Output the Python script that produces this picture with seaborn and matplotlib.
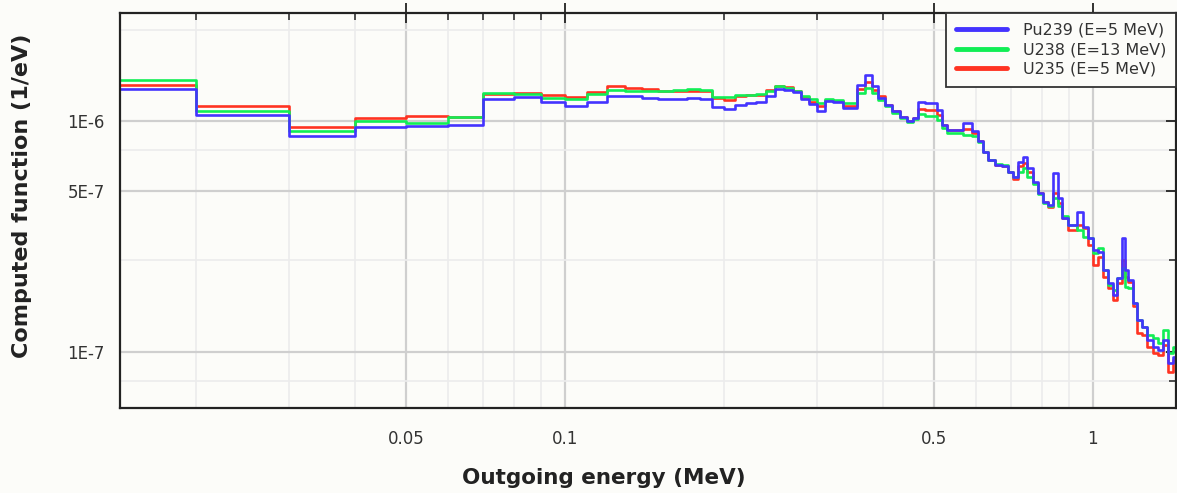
import numpy as np
import pandas as pd
import matplotlib
matplotlib.use('Agg')
import matplotlib.pyplot as plt
import matplotlib.ticker as mticker
import seaborn as sns

# bin edges of outgoing energy (MeV)
edges = [0.014, 0.02, 0.03, 0.04, 0.05, 0.06, 0.07, 0.08, 0.09, 0.10,
         0.11, 0.12, 0.13, 0.14, 0.15, 0.16, 0.17, 0.18, 0.19, 0.20,
         0.21, 0.22, 0.23, 0.24, 0.25, 0.26, 0.27, 0.28, 0.29, 0.30,
         0.311, 0.322, 0.336, 0.357, 0.370, 0.381, 0.392, 0.404, 0.416, 0.431,
         0.444, 0.456, 0.466, 0.481, 0.507, 0.518, 0.529, 0.567, 0.590, 0.606,
         0.619, 0.633, 0.652, 0.673, 0.690, 0.706, 0.721, 0.737, 0.750, 0.770,
         0.787, 0.804, 0.822, 0.840, 0.858, 0.874, 0.897, 0.933, 0.957, 0.978,
         1.000, 1.022, 1.044, 1.068, 1.091, 1.110, 1.135, 1.150, 1.165, 1.191,
         1.212, 1.238, 1.266, 1.299, 1.328, 1.357, 1.387, 1.418, 1.45]

# computed function per bin, in units of 1E-6 1/eV
pu239 = [1.387, 1.069, 0.869, 0.946, 0.958, 0.961, 1.251, 1.271, 1.214, 1.170,
         1.214, 1.293, 1.284, 1.261, 1.251, 1.251, 1.264, 1.251, 1.150, 1.132,
         1.182, 1.202, 1.214, 1.284, 1.387, 1.373, 1.342, 1.251, 1.194, 1.116,
         1.221, 1.209, 1.143, 1.443, 1.595, 1.419, 1.264, 1.182, 1.105, 1.045,
         1.007, 1.035, 1.209, 1.197, 1.124, 0.968, 0.920, 0.990, 0.905, 0.819,
         0.741, 0.682, 0.649, 0.642, 0.606, 0.577, 0.670, 0.705, 0.628, 0.549,
         0.489, 0.449, 0.435, 0.597, 0.465, 0.381, 0.356, 0.407, 0.350, 0.312,
         0.277, 0.272, 0.227, 0.199, 0.177, 0.209, 0.312, 0.227, 0.205, 0.163,
         0.138, 0.129, 0.113, 0.105, 0.102, 0.113, 0.0893, 0.0954]

u238 = [1.517, 1.116, 0.905, 1.000, 0.984, 1.041, 1.328, 1.319, 1.264, 1.251,
        1.310, 1.363, 1.355, 1.352, 1.350, 1.366, 1.387, 1.373, 1.276, 1.276,
        1.297, 1.306, 1.315, 1.350, 1.419, 1.401, 1.359, 1.286, 1.255, 1.202,
        1.251, 1.242, 1.202, 1.328, 1.396, 1.328, 1.242, 1.162, 1.088, 1.033,
        0.999, 1.022, 1.080, 1.059, 1.017, 0.939, 0.890, 0.876, 0.861, 0.812,
        0.739, 0.682, 0.655, 0.649, 0.605, 0.575, 0.606, 0.628, 0.577, 0.536,
        0.485, 0.444, 0.428, 0.465, 0.428, 0.390, 0.356, 0.339, 0.317, 0.312,
        0.268, 0.282, 0.227, 0.195, 0.186, 0.209, 0.231, 0.192, 0.189, 0.163,
        0.138, 0.129, 0.119, 0.115, 0.109, 0.125, 0.0987, 0.105]

u235 = [1.443, 1.170, 0.951, 1.035, 1.059, 1.048, 1.319, 1.328, 1.302, 1.276,
        1.336, 1.419, 1.396, 1.380, 1.350, 1.359, 1.350, 1.350, 1.264, 1.242,
        1.293, 1.306, 1.306, 1.373, 1.429, 1.405, 1.359, 1.271, 1.218, 1.162,
        1.234, 1.221, 1.170, 1.382, 1.477, 1.373, 1.284, 1.182, 1.105, 1.045,
        1.007, 1.035, 1.132, 1.118, 1.069, 0.968, 0.920, 0.927, 0.893, 0.819,
        0.741, 0.682, 0.649, 0.642, 0.605, 0.564, 0.642, 0.660, 0.606, 0.540,
        0.489, 0.449, 0.426, 0.489, 0.442, 0.381, 0.339, 0.356, 0.344, 0.291,
        0.238, 0.259, 0.212, 0.189, 0.168, 0.199, 0.251, 0.212, 0.202, 0.158,
        0.121, 0.119, 0.105, 0.0987, 0.0970, 0.107, 0.0821, 0.0923]

labels = ['Pu239 (E=5 MeV)', 'U238 (E=13 MeV)', 'U235 (E=5 MeV)']
colors = ['#4433ff', '#11ee55', '#ff3322']

xticks = [0.05, 0.1, 0.5, 1]
xticklabels = ['0.05', '0.1', '0.5', '1']
xminor = [0.02, 0.03, 0.04, 0.06, 0.07, 0.08, 0.09, 0.2, 0.3, 0.4, 0.6, 0.7, 0.8, 0.9]
yticks = [1e-7, 5e-7, 1e-6]
yticklabels = ['1E-7', '5E-7', '1E-6']
yminor = [7.5e-8, 2.5e-7, 7.5e-7, 2.5e-6]

rows = []
for lab, vals in zip(labels, [pu239, u238, u235]):
    v = list(vals) + [vals[-1]]
    for e, y in zip(edges, v):
        rows.append({'E': e, 'f': y * 1e-6, 'series': lab})
df = pd.DataFrame(rows)

sns.set_theme(style='white')
plt.rcParams['font.family'] = ['DejaVu Sans']

bg = '#fcfcf9'
fig = plt.figure(figsize=(11.77, 4.93), dpi=100, facecolor=bg)
ax = fig.add_axes([0.102, 0.172, 0.897, 0.802])
ax.set_facecolor(bg)
ax.set_xscale('log')
ax.set_yscale('log')

# draw red, green, then blue on top
order = [2, 1, 0]
for i in order:
    sub = df[df['series'] == labels[i]]
    sns.lineplot(data=sub, x='E', y='f', ax=ax, color=colors[i], lw=1.9,
                 drawstyle='steps-post', estimator=None, sort=False, label=labels[i])

ax.set_xlim(0.01436, 1.436)
ax.set_ylim(5.71e-8, 2.96e-6)

ax.xaxis.set_major_locator(mticker.FixedLocator(xticks))
ax.xaxis.set_major_formatter(mticker.FixedFormatter(xticklabels))
ax.xaxis.set_minor_locator(mticker.FixedLocator(xminor))
ax.xaxis.set_minor_formatter(mticker.NullFormatter())
ax.yaxis.set_major_locator(mticker.FixedLocator(yticks))
ax.yaxis.set_major_formatter(mticker.FixedFormatter(yticklabels))
ax.yaxis.set_minor_locator(mticker.FixedLocator(yminor))
ax.yaxis.set_minor_formatter(mticker.NullFormatter())

ax.grid(True, which='major', color='#cfcfcf', lw=1.6)
ax.grid(True, which='minor', color='#ececec', lw=1.2)
ax.set_axisbelow(True)

ax.tick_params(which='major', direction='inout', length=14, width=1.3, color='#222222',
               top=True, right=True, labelsize=12, labelcolor='#333333', pad=4)
ax.tick_params(axis='x', which='major', pad=9)
ax.tick_params(which='minor', direction='in', length=5, width=1.1, color='#222222',
               top=True, right=True)
for s in ax.spines.values():
    s.set_color('#222222')
    s.set_linewidth(1.6)

ax.set_xlabel('Outgoing energy (MeV)', fontsize=15.5, fontweight='bold', color='#222222')
ax.set_ylabel('Computed function (1/eV)', fontsize=16, fontweight='bold', color='#222222')
ax.xaxis.set_label_coords(0.458, -0.15)
ax.yaxis.set_label_coords(-0.083, 0.537)

h, l = ax.get_legend_handles_labels()
hmap = dict(zip(l, h))
leg = ax.legend([hmap[k] for k in labels], labels, loc='upper right', borderaxespad=0,
                fontsize=11.5, fancybox=False, framealpha=1, facecolor=bg,
                edgecolor='#333333', handlelength=3.2, handletextpad=1.0,
                labelspacing=0.3, borderpad=0.6)
leg.get_frame().set_linewidth(1.3)
for line in leg.get_lines():
    line.set_linewidth(3.5)
for t in leg.get_texts():
    t.set_color('#333333')

fig.savefig('out.png', dpi=100, facecolor=bg)
